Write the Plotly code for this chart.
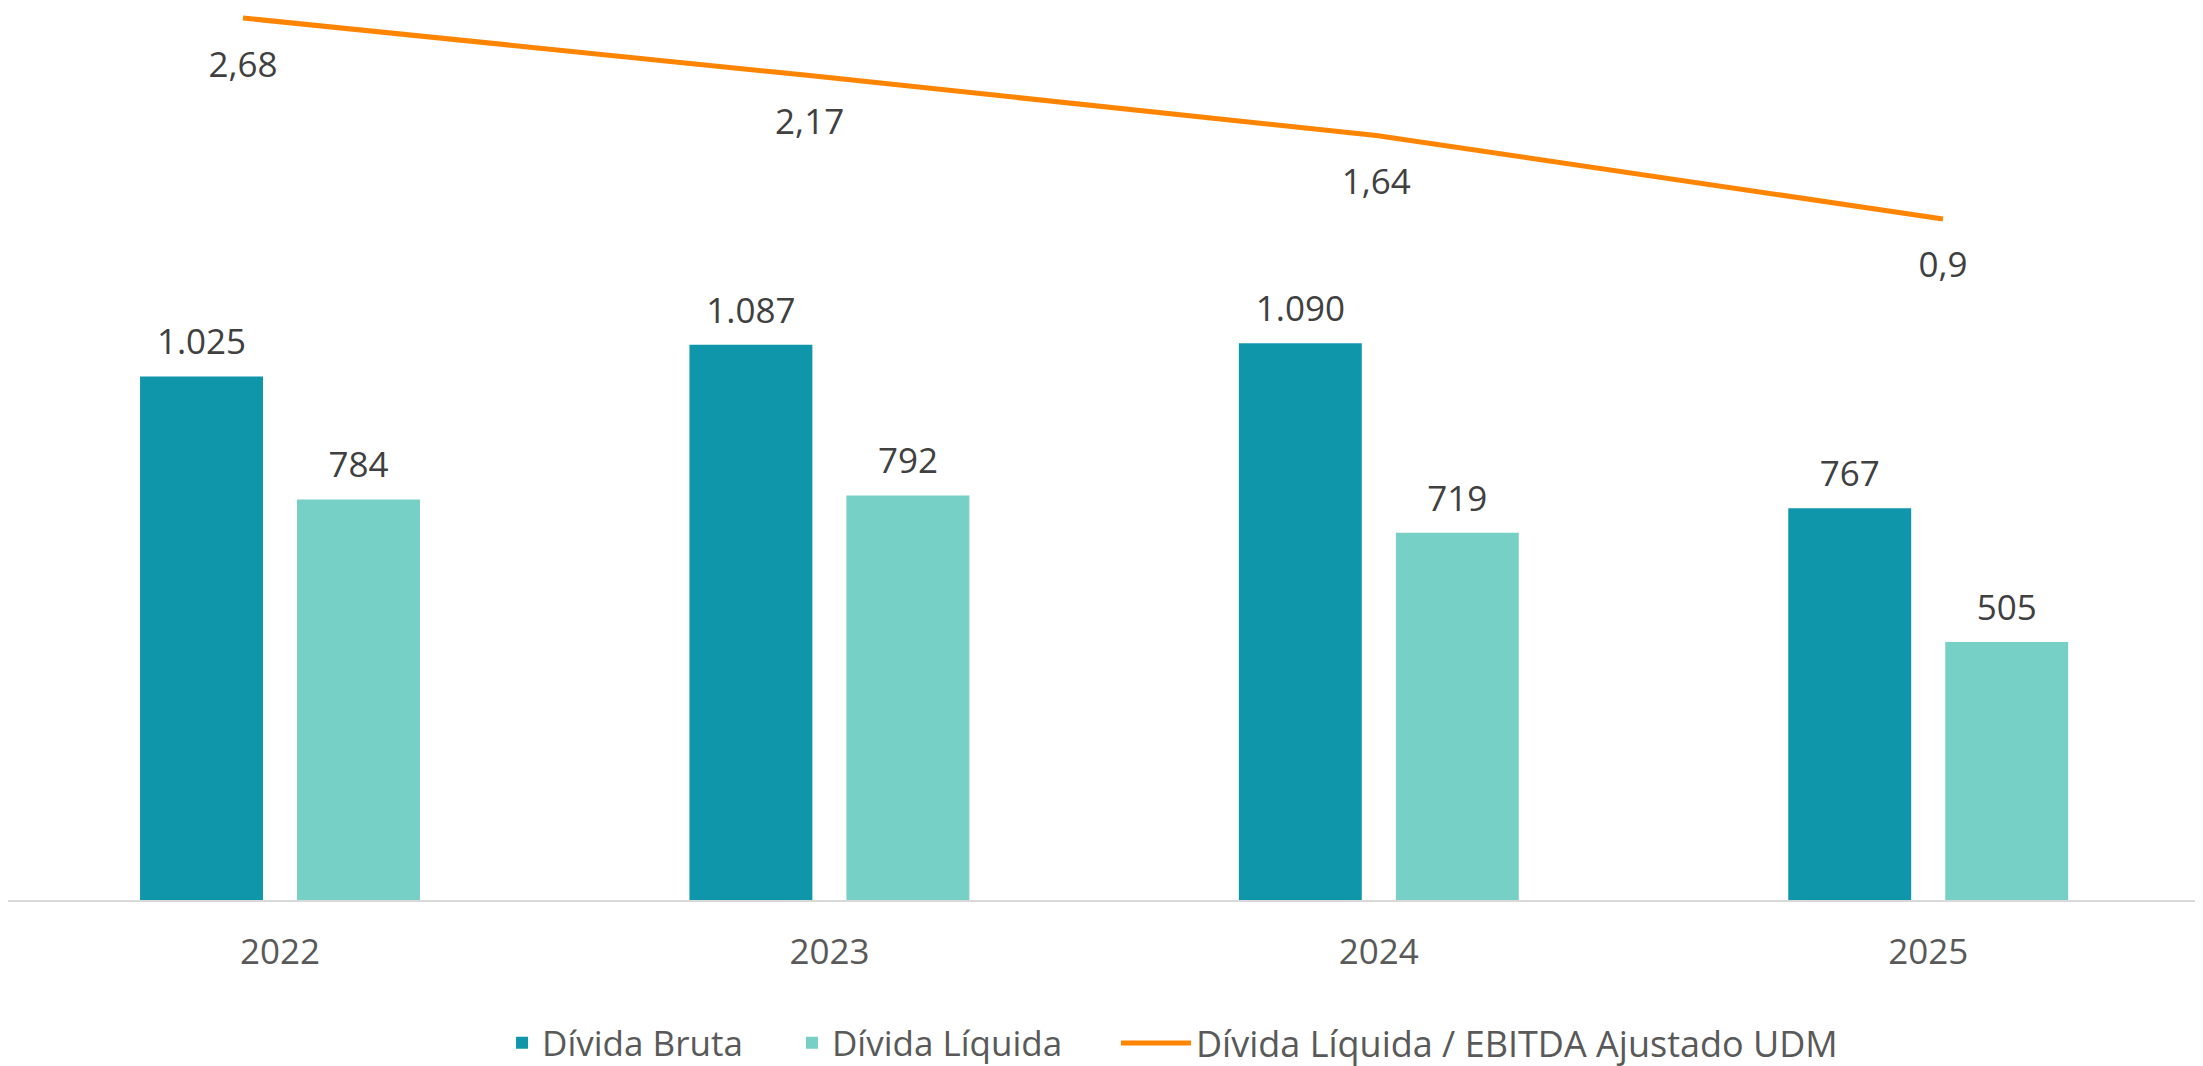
import plotly.graph_objects as go

years = ["2022", "2023", "2024", "2025"]
divida_bruta = [1025, 1087, 1090, 767]
divida_liquida = [784, 792, 719, 505]
alavancagem = [2.68, 2.17, 1.64, 0.9]

C_BRUTA = "#0F96AA"
C_LIQ = "#77D0C5"
C_LINE = "#FF8400"
FONT = "Open Sans"
LABEL_FONT = dict(family=FONT, size=35, color="#404040")
CLEAR = "rgba(0,0,0,0)"

fig = go.Figure()
fig.add_trace(go.Bar(
    x=years, y=divida_bruta, name="Dívida Bruta",
    marker=dict(color=C_BRUTA, line=dict(width=0)),
    legend="legend", hoverinfo="skip",
))
fig.add_trace(go.Bar(
    x=years, y=divida_liquida, name="Dívida Líquida",
    marker=dict(color=C_LIQ, line=dict(width=0)),
    legend="legend2", hoverinfo="skip",
))
# value labels above the bars (grouped like the bars)
for vals in (divida_bruta, divida_liquida):
    fig.add_trace(go.Scatter(
        x=years, y=vals, mode="markers+text", showlegend=False,
        marker=dict(size=20, color=CLEAR, line=dict(width=0)),
        texttemplate="%{y:,}", textposition="top center",
        textfont=LABEL_FONT, cliponaxis=False, hoverinfo="skip",
    ))
fig.add_trace(go.Scatter(
    x=years, y=alavancagem, name="Dívida Líquida / EBITDA Ajustado UDM",
    mode="lines+markers+text",
    line=dict(color=C_LINE, width=5),
    marker=dict(size=50, color=CLEAR, line=dict(width=0)),
    texttemplate="%{y:.3~g}", textposition="bottom center",
    textfont=LABEL_FONT,
    xaxis="x2", yaxis="y2", cliponaxis=False, legend="legend3",
))

LEG_Y = -0.1603
fig.update_layout(
    width=2203, height=1066,
    margin=dict(l=0, r=15, t=0, b=174, autoexpand=False),
    paper_bgcolor="white", plot_bgcolor="white",
    separators=",.",
    barmode="group", bargap=0.4285, bargroupgap=0.217,
    scattermode="group", scattergap=0.4285,
    font=dict(family=FONT, color="#595959"),
    xaxis=dict(type="category", range=[-0.4951, 3.4874], showline=True,
               linecolor="#D9D9D9", linewidth=2, ticks="", showgrid=False,
               tickfont=dict(family=FONT, size=35, color="#595959"),
               ticklabelstandoff=20),
    xaxis2=dict(type="category", overlaying="x", range=[-0.4147, 3.4465],
                visible=False, showgrid=False),
    yaxis=dict(range=[0, 1746.6], visible=False, showgrid=False, zeroline=False),
    yaxis2=dict(range=[-5.132, 2.7686], overlaying="y", side="right", visible=False,
                showgrid=False, zeroline=False),
    legend=dict(orientation="h", x=0.2258, xanchor="left", y=LEG_Y, yanchor="middle",
                font=dict(family=FONT, size=35, color="#595959"), bgcolor=CLEAR),
    legend2=dict(orientation="h", x=0.3583, xanchor="left", y=LEG_Y, yanchor="middle",
                 font=dict(family=FONT, size=35, color="#595959"), bgcolor=CLEAR),
    legend3=dict(orientation="h", x=0.5064, xanchor="left", y=LEG_Y, yanchor="middle",
                 itemwidth=70,
                 font=dict(family=FONT, size=36, color="#595959"), bgcolor=CLEAR),
    showlegend=True,
)

fig.write_html("out.html")
